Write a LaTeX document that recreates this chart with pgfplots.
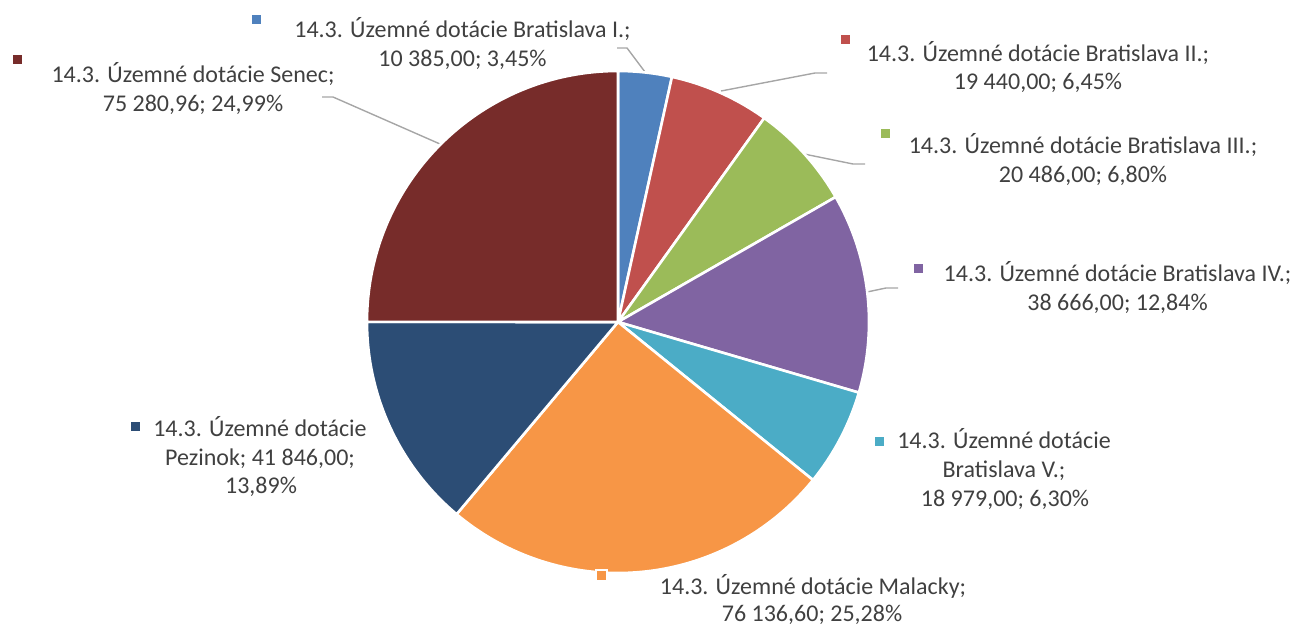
\documentclass[border=0pt]{standalone}
\usepackage{fontspec}
\setmainfont{Carlito}
\usepackage{pgfplots}
\usepackage{pgfplotstable}
\pgfplotsset{compat=1.18}

\definecolor{sA}{HTML}{4F81BD}
\definecolor{sB}{HTML}{C0504D}
\definecolor{sC}{HTML}{9BBB59}
\definecolor{sD}{HTML}{8064A2}
\definecolor{sE}{HTML}{4BACC6}
\definecolor{sF}{HTML}{F79646}
\definecolor{sG}{HTML}{2C4D75}
\definecolor{sH}{HTML}{772C2A}
\definecolor{txt}{HTML}{404040}
\definecolor{leadgray}{HTML}{A6A6A6}

% slices, clockwise from 12 o'clock: BA I..V, Malacky, Pezinok, Senec
\pgfplotstableread{
value
10385.00
19440.00
20486.00
38666.00
18979.00
76136.60
41846.00
75280.96
}\piedata

% start/end angle of every slice (fpu: the sums are too big for pgfmath)
\begingroup
\pgfkeys{/pgf/fpu=true,/pgf/fpu/output format=fixed}
\gdef\total{0}
\pgfplotstableforeachcolumnelement{value}\of\piedata\as\v{%
  \pgfmathparse{\total+\v}\xdef\total{\pgfmathresult}}
\gdef\cum{0}
\pgfplotstableforeachcolumnelement{value}\of\piedata\as\v{%
  \pgfmathparse{90-360*\cum/\total}%
  \expandafter\xdef\csname angA\pgfplotstablerow\endcsname{\pgfmathresult}%
  \pgfmathparse{\cum+\v}\xdef\cum{\pgfmathresult}%
  \pgfmathparse{90-360*\cum/\total}%
  \expandafter\xdef\csname angB\pgfplotstablerow\endcsname{\pgfmathresult}}
\endgroup

\begin{document}
\begin{tikzpicture}[
  lbl/.style={anchor=base, inner sep=0pt, text=txt, font=\fontsize{12}{14.4}\selectfont},
  key/.style={inner sep=0pt, minimum size=4.5pt, draw=none},
  lead/.style={draw=leadgray, line width=0.7pt}
]
\begin{axis}[
  scale only axis, width=648pt, height=313pt,
  xmin=0, xmax=1296, ymin=0, ymax=626, y dir=reverse,
  hide axis, clip=false,
]
% leader lines
\draw[lead] (axis cs:617,48) -- (axis cs:627,48) -- (axis cs:645,72);
\draw[lead] (axis cs:721,91) -- (axis cs:815,73) -- (axis cs:827,73);
\draw[lead] (axis cs:804,154) -- (axis cs:853,164) -- (axis cs:865,164);
\draw[lead] (axis cs:867,292) -- (axis cs:886,288) -- (axis cs:898,288);
\draw[lead] (axis cs:440,144) -- (axis cs:333,97) -- (axis cs:322,97);

% wedges
\pgfplotsextra{%
  \foreach \i/\col in {0/sA,1/sB,2/sC,3/sD,4/sE,5/sF,6/sG,7/sH}{%
    \edef\a{\csname angA\i\endcsname}%
    \edef\b{\csname angB\i\endcsname}%
    \filldraw[fill=\col, draw=white, line width=1.3pt, line join=round]
      (axis cs:618,322) -- ++(\a:125.5pt)
      arc[start angle=\a, end angle=\b, radius=125.5pt] -- cycle;
  }%
}

% labels
\node[lbl] at (axis cs:462.5,37.7) {14.3. Územné dotácie Bratislava I.;};
\node[lbl] at (axis cs:462.5,66.7) {10 385,00; 3,45\%};
\node[lbl] at (axis cs:1038,61.5) {14.3. Územné dotácie Bratislava II.;};
\node[lbl] at (axis cs:1038,90) {19 440,00; 6,45\%};
\node[lbl] at (axis cs:1083,154) {14.3. Územné dotácie Bratislava III.;};
\node[lbl] at (axis cs:1083,183) {20 486,00; 6,80\%};
\node[lbl] at (axis cs:1117.5,281) {14.3. Územné dotácie Bratislava IV.;};
\node[lbl] at (axis cs:1117.5,310) {38 666,00; 12,84\%};
\node[lbl] at (axis cs:1004,448.5) {14.3. Územné dotácie};
\node[lbl] at (axis cs:1004,477) {Bratislava V.;};
\node[lbl] at (axis cs:1005,506) {18 979,00; 6,30\%};
\node[lbl] at (axis cs:813,594) {14.3. Územné dotácie Malacky;};
\node[lbl] at (axis cs:812,621) {76 136,60; 25,28\%};
\node[lbl] at (axis cs:260,436) {14.3. Územné dotácie};
\node[lbl] at (axis cs:260,465) {Pezinok; 41 846,00;};
\node[lbl] at (axis cs:261,493.5) {13,89\%};
\node[lbl] at (axis cs:193,82.5) {14.3. Územné dotácie Senec;};
\node[lbl] at (axis cs:193,111.5) {75 280,96; 24,99\%};

% colour keys
\node[key, fill=sA] at (axis cs:256,19.5) {};
\node[key, fill=sB] at (axis cs:845.5,39.5) {};
\node[key, fill=sC] at (axis cs:885,134) {};
\node[key, fill=sD] at (axis cs:918,268) {};
\node[key, fill=sE] at (axis cs:879.5,441) {};
\node[key, fill=sF, draw=white, line width=1pt, minimum size=5.5pt] at (axis cs:601,575) {};
\node[key, fill=sG] at (axis cs:135,426) {};
\node[key, fill=sH] at (axis cs:17,59.5) {};
\end{axis}
\pgfresetboundingbox
\path (current axis.south west) rectangle (current axis.north east);
\end{tikzpicture}
\end{document}
